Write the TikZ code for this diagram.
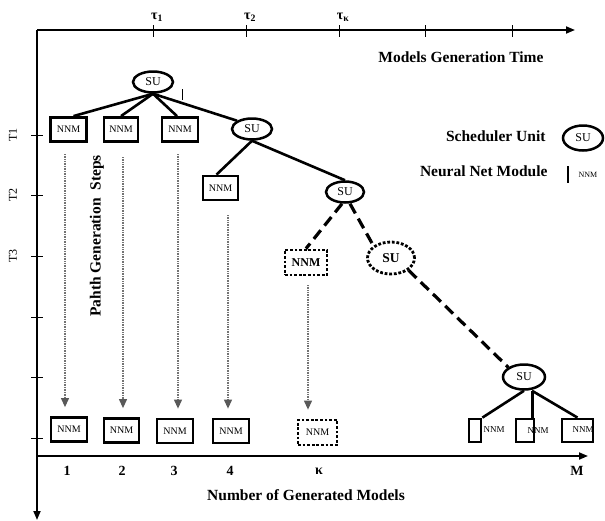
\documentclass[tikz,border=0pt]{standalone}
\usepackage{fontspec}
\setmainfont{Liberation Serif}
\usetikzlibrary{arrows.meta,shapes.geometric}
\begin{document}
\begin{tikzpicture}[x=1pt,y=-1pt,
  axis/.style={line width=1.8pt,-{Triangle[length=9pt,width=7pt]}},
  tickmark/.style={line width=1pt},
  su/.style={ellipse,draw,line width=2.5pt,minimum width=40pt,minimum height=21pt,
    inner sep=0pt,font=\fontsize{12}{12}\selectfont},
  nnm/.style={rectangle,draw,line width=2.8pt,minimum width=36pt,minimum height=24pt,
    inner sep=0pt,font=\fontsize{10}{10}\selectfont},
  dotline/.style={line width=2.8pt,dash pattern=on 2.8pt off 1.8pt},
  tree/.style={line width=2.6pt},
  future/.style={line width=3.2pt,dash pattern=on 11pt off 6pt},
  flow/.style={draw=black!55,line width=1.1pt,dash pattern=on 1pt off 0.7pt,
    -{Triangle[length=9pt,width=8pt,color=black!65,fill=black!65]},
    shorten >=9pt},
  bigtext/.style={font=\fontsize{15.5}{15.5}\selectfont\bfseries},
  steplabel/.style={rotate=90,font=\fontsize{12}{12}\selectfont},
  countlabel/.style={font=\fontsize{14}{14}\selectfont\bfseries},
  taulabel/.style={font=\fontsize{14}{14}\selectfont\bfseries},
  smalltext/.style={inner sep=0pt,font=\fontsize{9}{9}\selectfont}]
\useasboundingbox (0,0) rectangle (605,520);

% axes
\coordinate (o) at (37,30);
\coordinate (xend) at (575,30);
\coordinate (yend) at (37,520);
\coordinate (bo) at (37,456);
\coordinate (bend) at (588,456);
\draw[axis] (o) -- (xend);
\draw[axis] (o) -- (yend);
\draw[axis] (bo) -- (bend);

% time ticks
\foreach \x in {153,246,339,425,512} \draw[tickmark] (\x,25) -- (\x,37);
\node[taulabel] (tau1) at (157,17) {τ\textsubscript{1}};
\node[taulabel] (tau2) at (250,17) {τ\textsubscript{2}};
\node[taulabel] (tauk) at (343,17) {τ\textsubscript{κ}};
\node[bigtext] (timelabel) at (461,57) {Models Generation Time};

% step ticks
\foreach \y in {135,195,256,317,377,438} \draw[tickmark] (31,\y) -- (43,\y);
\node[steplabel] (t1) at (13,135) {T1};
\node[steplabel] (t2) at (13,195) {T2};
\node[steplabel] (t3) at (13,256) {T3};
\node[bigtext,rotate=90] (steps) at (97,236) {Pahth Generation\ \ Steps};

% scheduler tree
\node[su] (su1) at (153,82) {SU};
\node[nnm] (a1) at (68.5,129.5) {NNM};
\node[nnm,minimum width=34pt] (a2) at (121,129.5) {NNM};
\node[nnm] (a3) at (180,129.5) {NNM};
\node[su] (su2) at (252,129) {SU};
\node[nnm,minimum width=35pt] (b1) at (220.5,188) {NNM};
\node[su,minimum width=38pt] (su3) at (345,192) {SU};
\node[nnm,dotline,minimum width=42pt,minimum height=25pt,
  font=\fontsize{12}{12}\selectfont\bfseries] (c1) at (306,262.5) {NNM};
\node[su,dotline,minimum width=47pt,minimum height=32pt,
  font=\fontsize{13.5}{13.5}\selectfont\bfseries] (su4) at (391,258) {SU};
\node[su,minimum width=42pt,minimum height=25pt] (su5) at (524,377) {SU};

\coordinate (marktop) at (182,89);
\coordinate (markbot) at (182,100);
\draw[line width=0.8pt] (marktop) -- (markbot);

\draw[tree] (su1.south) -- ([xshift=5pt]a1.north);
\draw[tree] (su1.south) -- (a2.north);
\draw[tree] (su1.south) -- ([xshift=-3pt]a3.north);
\draw[tree] (su1.south) -- (su2.north west);
\draw[tree] (su2.south) -- ([xshift=-4pt]b1.north);
\draw[tree] (su2.south) -- (su3.north);
\draw[future] ([xshift=-3pt]su3.south) -- (c1.north);
\draw[future] ([xshift=5pt]su3.south) -- (su4.north west);
\draw[future] (su4.south east) -- (su5.north west);

% generated models
\node[nnm] (m1) at (69,429.5) {NNM};
\node[nnm,minimum width=35pt] (m2) at (121.5,430.5) {NNM};
\node[nnm] (m3) at (175,431) {NNM};
\node[nnm] (m4) at (231,431) {NNM};
\node[nnm,dotline,minimum width=39pt,minimum height=25pt] (mk) at (317.5,432.5) {NNM};

\node[nnm,minimum width=12pt,minimum height=23pt] (r1) at (475,430.5) {};
\node[smalltext] (r1t) at (494,429.5) {NNM};
\node[nnm,minimum width=18pt,minimum height=23pt] (r2) at (525,430.5) {};
\node[smalltext] (r2t) at (538,430.5) {NNM};
\node[nnm,minimum width=31pt,minimum height=23pt] (r3) at (577.5,430.5) {};
\node[smalltext] (r3t) at (583,429.5) {NNM};
\draw[tree] (su5.south) -- (r1.north east);
\draw[tree] ([xshift=-3pt]r2.north east) -- ([xshift=-3pt]r2.north east |- su5.south);
\draw[tree] ([xshift=8pt]su5.south) -- (r3.north);

% generation paths
\coordinate (s1) at (65,154);
\coordinate (s2) at (123,157);
\coordinate (s3) at (178,154);
\coordinate (s4) at (228,215);
\coordinate (s5) at (308,285);
\draw[flow] (s1) -- (s1 |- m1.north);
\draw[flow] (s2) -- (s2 |- m2.north);
\draw[flow] (s3) -- (s3 |- m3.north);
\draw[flow] (s4) -- (s4 |- m4.north);
\draw[flow] (s5) -- (s5 |- mk.north);

% model counts
\node[countlabel] (n1) at (67,471) {1};
\node[countlabel] (n2) at (122,471) {2};
\node[countlabel] (n3) at (174,471) {3};
\node[countlabel] (n4) at (230,471) {4};
\node[countlabel] (nk) at (319,471) {κ};
\node[countlabel] (nm) at (577,471) {M};
\node[bigtext] (countaxis) at (306,495) {Number of Generated Models};

% legend
\node[bigtext,anchor=east] (legsu) at (549,136) {Scheduler Unit};
\node[su,minimum width=40pt,minimum height=25pt] (legsushape) at (583,138) {SU};
\node[bigtext,anchor=east] (legnnm) at (551,171) {Neural Net Module};
\coordinate (bartop) at (568,166);
\coordinate (barbot) at (568,183);
\draw[line width=2.8pt] (bartop) -- (barbot);
\node[smalltext,font=\fontsize{8}{8}\selectfont] (legnnmtext) at (588,175) {NNM};
\end{tikzpicture}
\end{document}
